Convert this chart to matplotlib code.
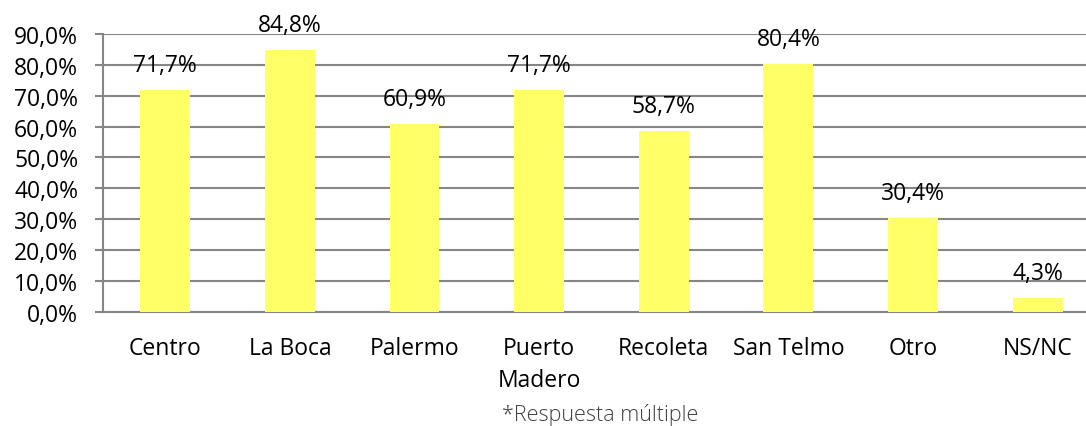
import matplotlib.pyplot as plt

categories = ["Centro", "La Boca", "Palermo", "Puerto\nMadero", "Recoleta",
              "San Telmo", "Otro", "NS/NC"]
values = [71.7, 84.8, 60.9, 71.7, 58.7, 80.4, 30.4, 4.3]
yticks = [0, 10, 20, 30, 40, 50, 60, 70, 80, 90]

plt.rcParams['font.family'] = ['Open Sans', 'DejaVu Sans']
fs = 16.5

fig = plt.figure(figsize=(10.86, 4.27), dpi=100)
# plot area runs past the right edge, as in the original
ax = fig.add_axes([0.0948, 0.268, 0.918, 0.650])

x = list(range(len(categories)))
ax.bar(x, values, width=0.4, color="#FFFF66", zorder=3)

for xi, v in zip(x, values):
    lbl = f"{v:.1f}%".replace(".", ",")
    ax.annotate(lbl, (xi, v), xytext=(0, 25), textcoords="offset pixels",
                ha="center", va="center", fontsize=fs, color="#000000")

ax.set_xlim(-0.5, len(categories) - 0.5)
ax.set_ylim(0, 90)
ax.set_yticks(yticks)
ax.set_yticklabels([f"{t:.1f}%".replace(".", ",") for t in yticks], fontsize=fs)
ax.set_xticks(x)
ax.set_xticklabels(categories, fontsize=fs, linespacing=1.45, va="top")

ax.yaxis.grid(True, color="#868686", linewidth=1.5, zorder=0)
ax.set_axisbelow(True)
for s in ["top", "right"]:
    ax.spines[s].set_visible(False)
for s in ["left", "bottom"]:
    ax.spines[s].set_color("#868686")
    ax.spines[s].set_linewidth(1.5)
ax.tick_params(axis="y", length=5.8, width=1.5, color="#868686", pad=12)
ax.tick_params(axis="x", length=0, pad=17.5)

fig.text(0.553, 0.028, "*Respuesta múltiple", ha="center", va="center",
         fontsize=15.5, color="#404040", fontweight="light",
         family=["Open Sans", "DejaVu Sans"])

fig.savefig("out.png", dpi=100)
